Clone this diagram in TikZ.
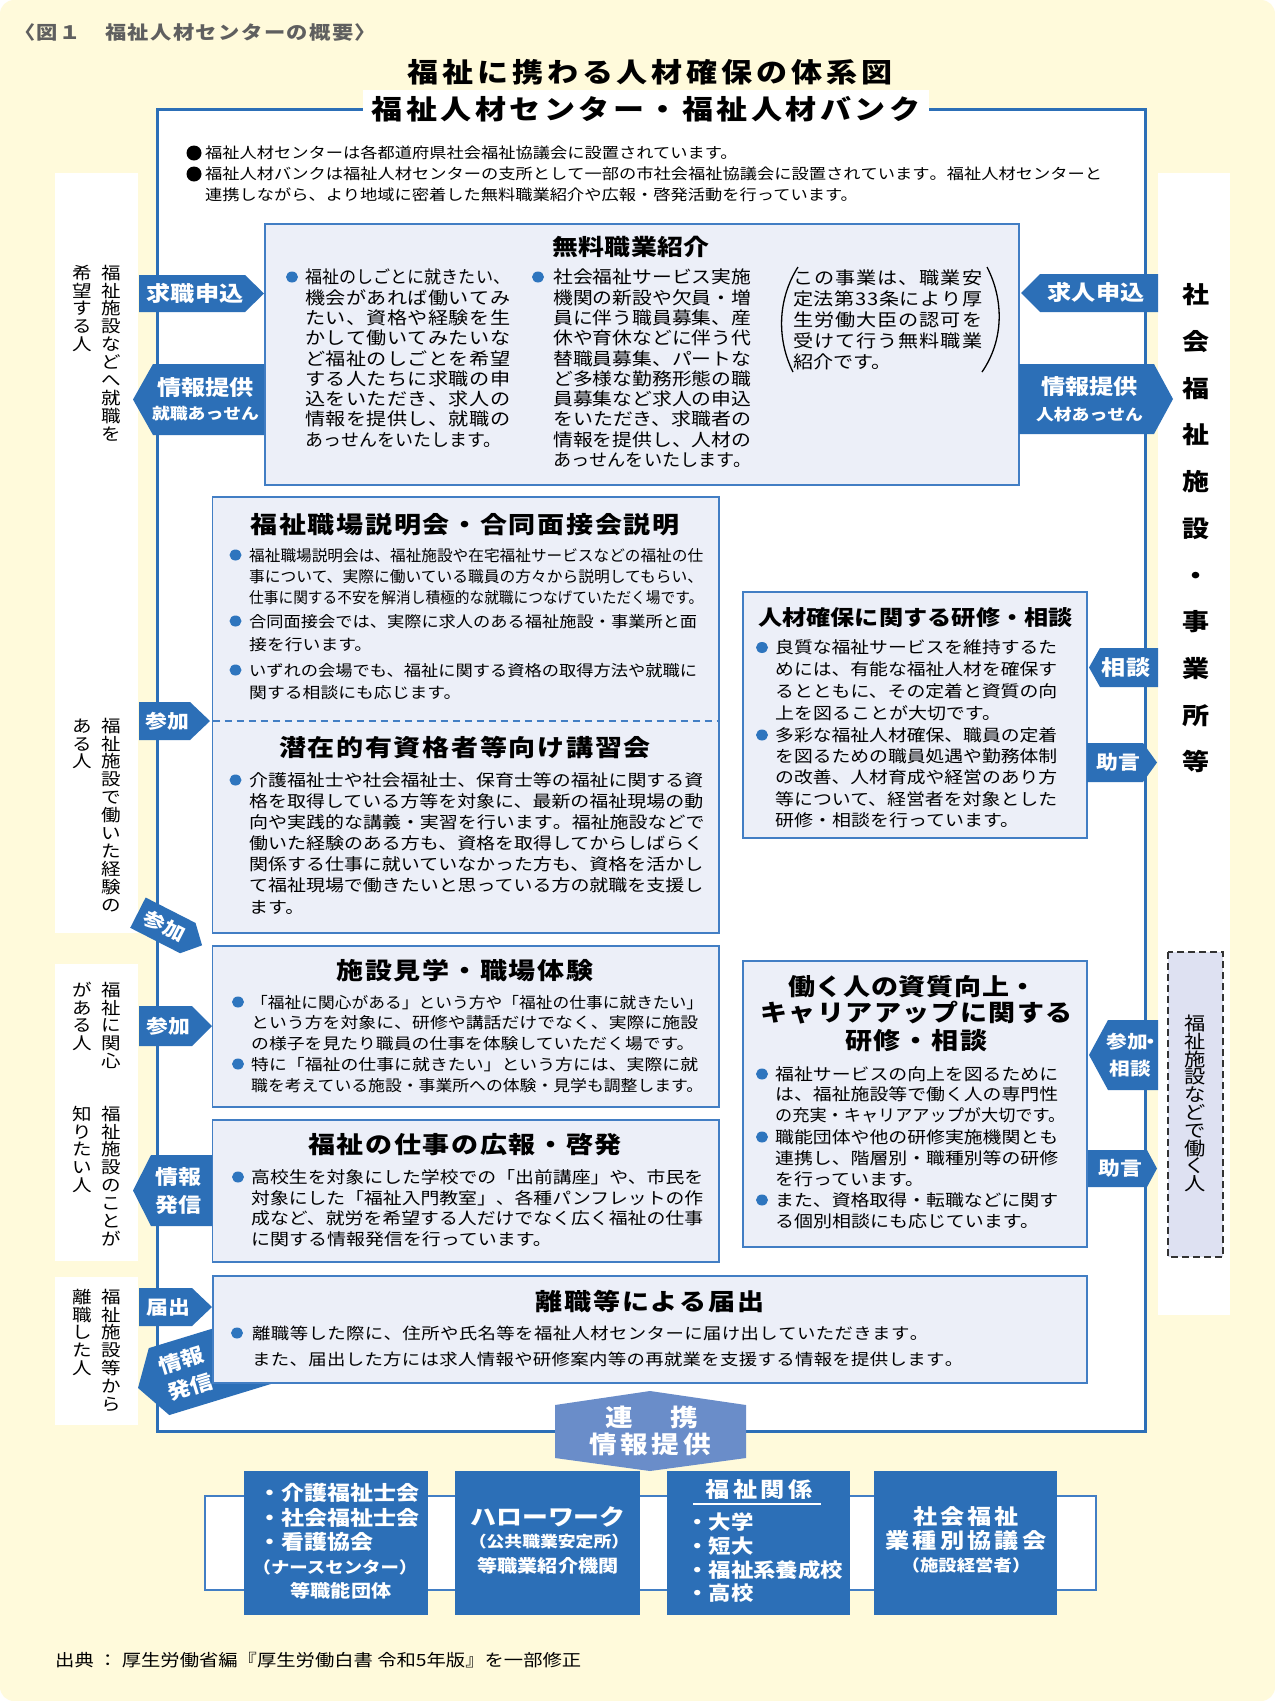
\documentclass[tikz,border=0pt]{standalone}
\usepackage{fontspec}
\setmainfont{Noto Sans CJK JP}[FakeStretch=1.15]
\usepackage{graphicx}
\definecolor{cream}{RGB}{255,250,219}
\definecolor{tagblue}{RGB}{44,111,183}
\definecolor{boxfill}{RGB}{236,239,248}
\definecolor{boxline}{RGB}{66,126,196}
\definecolor{hexblue}{RGB}{106,141,201}
\definecolor{lav}{RGB}{222,225,242}
\definecolor{dotblue}{RGB}{46,117,190}
\definecolor{capgray}{RGB}{95,95,95}
\newsavebox\jbox
\newcommand\jsz[1]{\fontsize{#1}{#1}\selectfont}
\newcommand\jst{\vrule height .88em depth .12em width 0pt\relax}
\makeatletter
\def\jf@a#1{\ifx\relax#1\else#1\expandafter\jf@b\fi}
\def\jf@b#1{\ifx\relax#1\else\hfill#1\expandafter\jf@b\fi}
\newcommand\jfit[2]{\sbox\jbox{#2}\ifdim\wd\jbox>#1\relax\hbox{\jst\resizebox{#1}{\height}{\usebox\jbox}}\else\hbox to #1{\jst\jf@a#2\relax}\fi}
\newcommand\jn[1]{\hbox{\jst#1}}
\newcommand\JL[1]{\jfit{\jw}{#1}}
\newcommand\vstk[2]{\vbox{\offinterlineskip\def\vs@g{#1}\vs@a#2\relax}}
\def\vs@a#1{\ifx\relax#1\else\hbox to 1em{\hss\jst#1\hss}\kern\vs@g\expandafter\vs@a\fi}
\makeatother
\newcommand\twol[5]{\vbox{\offinterlineskip\halign{\hfil##\hfil\cr\jsz{#1}\jst#2\cr\noalign{\kern#5pt}\jsz{#3}\jst#4\cr}}}
% name, style, x, y(first line centre), fs, baselineskip, content
\newcommand\blk[7]{\node[inner sep=0pt,anchor=north west,font=\jsz{#5},#2] (#1) at (#3,{#4-#5/2}) {\vbox{\baselineskip=#6pt\relax#7}};}
% name, xleft, xbody, xtip, ytop, ybot, fs, text
\newcommand\tagR[8]{\fill[tagblue] (#2,#5) -- (#3,#5) -- (#4,{(#5+#6)/2}) -- (#3,#6) -- (#2,#6) -- cycle;
 \node[tagtxt,font=\bfseries\jsz{#7}] (#1) at ({(#2+#3)/2+3},{(#5+#6)/2}) {#8};}
% name, xtip, xbody, xright, ytop, ybot, fs, text
\newcommand\tagL[8]{\fill[tagblue] (#2,{(#5+#6)/2}) -- (#3,#5) -- (#4,#5) -- (#4,#6) -- (#3,#6) -- cycle;
 \node[tagtxt,font=\bfseries\jsz{#7}] (#1) at ({(#3+#4)/2-3},{(#5+#6)/2}) {#8};}
\begin{document}
\begin{tikzpicture}[x=1pt,y=-1pt,
 tagtxt/.style={text=white,inner sep=0pt},
 cbox/.style={fill=boxfill,draw=boxline,line width=1.4pt},
 tx/.style={inner sep=0pt}]
\useasboundingbox (0,0) rectangle (1275,1701);
\fill[white] (0,0) rectangle (1275,1701);
\fill[cream,rounded corners=14pt] (0,0) rectangle (1275,1701);
% side panels
\fill[white] (55,173) rectangle (138,933);
\fill[white] (55,964) rectangle (138,1261);
\fill[white] (55,1277) rectangle (138,1425);
\fill[white] (1158,173) rectangle (1230,1315);
% main frame
\draw[fill=white,draw=tagblue,line width=3pt] (157,109) rectangle (1145,1431);
\fill[white] (363,90) rectangle (929,127);
\node[tx,font=\bfseries\jsz{27}] (banner) at (646,109) {\jfit{549pt}{福祉人材センター・福祉人材バンク}};
\node[tx,font=\bfseries\jsz{27}] (title) at (650,72) {\jfit{485pt}{福祉に携わる人材確保の体系図}};
\node[tx,anchor=west,font=\bfseries\jsz{18.5},text=capgray] (cap) at (14,32) {\jfit{362pt}{〈図１　福祉人材センターの概要〉}};
% header bullets
\fill (194,153) circle (7.5);
\fill (194,174) circle (7.5);
\node[tx,anchor=west,font=\jsz{15}] (hb1) at (205,153) {\jn{福祉人材センターは各都道府県社会福祉協議会に設置されています。}};
\blk{hb2}{}{205}{174}{15}{20.3}{\jfit{897pt}{福祉人材バンクは福祉人材センターの支所として一部の市社会福祉協議会に設置されています。福祉人材センターと}\jn{連携しながら、より地域に密着した無料職業紹介や広報・啓発活動を行っています。}}
% vertical side texts
\node[tx,anchor=north,font=\jsz{17}] (lv1a) at (111,264) {\vstk{0.9pt}{福祉施設などへ就職を}};
\node[tx,anchor=north,font=\jsz{17}] (lv1b) at (82,264) {\vstk{0.9pt}{希望する人}};
\node[tx,anchor=north,font=\jsz{17}] (lv2a) at (111,717) {\vstk{0.9pt}{福祉施設で働いた経験の}};
\node[tx,anchor=north,font=\jsz{17}] (lv2b) at (82,717) {\vstk{0.9pt}{ある人}};
\node[tx,anchor=north,font=\jsz{17}] (lv3a) at (111,981) {\vstk{0.9pt}{福祉に関心}};
\node[tx,anchor=north,font=\jsz{17}] (lv3b) at (82,981) {\vstk{0.9pt}{がある人}};
\node[tx,anchor=north,font=\jsz{17}] (lv4a) at (111,1105) {\vstk{0.9pt}{福祉施設のことが}};
\node[tx,anchor=north,font=\jsz{17}] (lv4b) at (82,1105) {\vstk{0.9pt}{知りたい人}};
\node[tx,anchor=north,font=\jsz{17}] (lv5a) at (111,1288) {\vstk{0.9pt}{福祉施設等から}};
\node[tx,anchor=north,font=\jsz{17}] (lv5b) at (82,1288) {\vstk{0.9pt}{離職した人}};
\node[tx,anchor=north,font=\bfseries\jsz{23.5}] (rv) at (1196,283) {\vstk{23.2pt}{社会福祉施設・事業所等}};
% content boxes
\draw[cbox] (265,224) rectangle (1019,485);
\draw[cbox] (212.5,497) rectangle (719,933);
\draw[cbox] (743,592) rectangle (1087,838);
\draw[cbox] (212.5,946) rectangle (719,1107);
\draw[cbox] (212.5,1120) rectangle (719,1262);
\draw[cbox] (743,961) rectangle (1087,1247);
\draw[boxline,line width=1.3pt,dash pattern=on 7pt off 5pt] (212.5,721) -- (719,721);
\draw[fill=lav,draw=black!80,line width=1.3pt,dash pattern=on 7pt off 4pt] (1168,952) rectangle (1223,1257);
\node[tx,anchor=north,font=\jsz{18.5}] (dv) at (1195,1014) {\vstk{-0.7pt}{福祉施設などで働く人}};
% diagonal tags
\begin{scope}[shift={(170,929)},rotate=-27]
\fill[tagblue] (-36,-17) -- (20,-17) -- (36,0) -- (20,17) -- (-36,17) -- cycle;
\node[tagtxt,font=\bfseries\jsz{19},transform shape] (tqd) at (-6,0) {\jst 参加};
\end{scope}
\begin{scope}[shift={(138,1388)},rotate=17]
\fill[tagblue] (0,0) -- (22,-35) -- (170,-35) -- (170,35) -- (22,35) -- cycle;
\node[tagtxt,font=\bfseries\jsz{20},transform shape] (tqe) at (50,0) {\twol{20}{情報}{20}{発信}{8}};
\end{scope}
\draw[cbox] (213,1276) rectangle (1087,1383);
% tags left
\tagR{tq1}{139}{245}{264}{275}{312}{21}{\jst 求職申込}
\tagL{tq2}{133}{153}{264}{364}{435}{21}{\twol{21}{情報提供}{15.5}{就職あっせん}{8}}
\tagR{tq3}{139}{190}{210}{702}{740}{19}{\jst 参加}
\tagR{tq4}{139}{192}{212}{1006}{1046}{19}{\jst 参加}
\tagL{tq5}{133}{151}{212}{1155}{1226}{20}{\twol{20}{情報}{20}{発信}{8}}
\tagR{tq6}{139}{192}{212}{1288}{1326}{19}{\jst 届出}
% tags right
\tagL{tr1}{1021}{1040}{1158}{274}{312}{21}{\jst 求人申込}
\tagR{tr2}{1019}{1154}{1173}{364}{434}{21}{\twol{21}{情報提供}{15.5}{人材あっせん}{9.5}}
\tagL{tr3}{1089}{1100}{1158}{648}{687}{21}{\jst 相談}
\tagR{tr4}{1087}{1143}{1157}{743}{782}{19}{\jst 助言}
\tagL{tr5}{1089}{1108}{1158}{1020}{1090}{18}{\twol{18}{参加\makebox[6pt]{・}}{18}{相談}{9}}
\tagR{tr6}{1088}{1147}{1157}{1150}{1187}{19}{\jst 助言}
% box 1: free placement
\node[tx,font=\bfseries\jsz{22.5}] (t1) at (631,247) {\jfit{157pt}{無料職業紹介}};
\fill[dotblue] (292,277) ellipse [x radius=6,y radius=5.5];
\fill[dotblue] (538,277) ellipse [x radius=6,y radius=5.5];
\blk{a1}{}{305}{277}{17.5}{20.3}{\def\jw{205pt}\JL{福祉のしごとに就きたい、}\JL{機会があれば働いてみ}\JL{たい、資格や経験を生}\JL{かして働いてみたいな}\JL{ど福祉のしごとを希望}\JL{する人たちに求職の申}\JL{込をいただき、求人の}\JL{情報を提供し、就職の}\jfit{196pt}{あっせんをいたします。}}
\blk{a2}{}{553}{277}{17.5}{20.3}{\def\jw{198pt}\JL{社会福祉サービス実施}\JL{機関の新設や欠員・増}\JL{員に伴う職員募集、産}\JL{休や育休などに伴う代}\JL{替職員募集、パートな}\JL{ど多様な勤務形態の職}\JL{員募集など求人の申込}\JL{をいただき、求職者の}\JL{情報を提供し、人材の}\JL{あっせんをいたします。}}
\blk{a3}{}{793}{278}{17.5}{21}{\def\jw{189pt}\JL{この事業は、職業安}\JL{定法第33条により厚}\JL{生労働大臣の認可を}\JL{受けて行う無料職業}\jn{紹介です。}}
\draw[line width=1.3pt] (798,267) .. controls (777,300) and (777,340) .. (793,372);
\draw[line width=1.3pt] (987,267) .. controls (1004,300) and (1004,340) .. (982,372);
% box 2
\node[tx,font=\bfseries\jsz{23.5}] (t2) at (465,525) {\jfit{429pt}{福祉職場説明会・合同面接会説明}};
\fill[dotblue] (235.5,555) ellipse [x radius=6,y radius=5.5];
\fill[dotblue] (235.5,621) ellipse [x radius=6,y radius=5.5];
\fill[dotblue] (235.5,670) ellipse [x radius=6,y radius=5.5];
\blk{b1}{}{249}{555}{15.5}{21}{\def\jw{454pt}\JL{福祉職場説明会は、福祉施設や在宅福祉サービスなどの福祉の仕}\JL{事について、実際に働いている職員の方々から説明してもらい、}\JL{仕事に関する不安を解消し積極的な就職につなげていただく場です。}}
\blk{b2}{}{249}{621}{15.5}{23}{\jfit{448pt}{合同面接会では、実際に求人のある福祉施設・事業所と面}\jn{接を行います。}}
\blk{b3}{}{249}{670}{15.5}{22}{\jfit{448pt}{いずれの会場でも、福祉に関する資格の取得方法や就職に}\jn{関する相談にも応じます。}}
\node[tx,font=\bfseries\jsz{23.5}] (t3) at (465,748) {\jfit{372pt}{潜在的有資格者等向け講習会}};
\fill[dotblue] (235.5,780) ellipse [x radius=6,y radius=5.5];
\blk{b4}{}{249}{780}{16.5}{21.1}{\def\jw{454pt}\JL{介護福祉士や社会福祉士、保育士等の福祉に関する資}\JL{格を取得している方等を対象に、最新の福祉現場の動}\JL{向や実践的な講義・実習を行います。福祉施設などで}\JL{働いた経験のある方も、資格を取得してからしばらく}\JL{関係する仕事に就いていなかった方も、資格を活かし}\JL{て福祉現場で働きたいと思っている方の就職を支援し}\jn{ます。}}
% box 3
\node[tx,font=\bfseries\jsz{21}] (t4) at (915.5,618) {\jfit{315pt}{人材確保に関する研修・相談}};
\fill[dotblue] (762,647.5) ellipse [x radius=6,y radius=5.5];
\fill[dotblue] (762,735) ellipse [x radius=6,y radius=5.5];
\blk{c1}{}{775}{647.5}{16.5}{21.8}{\def\jw{282pt}\JL{良質な福祉サービスを維持するた}\JL{めには、有能な福祉人材を確保す}\JL{るとともに、その定着と資質の向}\jn{上を図ることが大切です。}}
\blk{c2}{}{775}{735}{16.5}{21.25}{\def\jw{282pt}\JL{多彩な福祉人材確保、職員の定着}\JL{を図るための職員処遇や勤務体制}\JL{の改善、人材育成や経営のあり方}\JL{等について、経営者を対象とした}\jn{研修・相談を行っています。}}
% box 4
\node[tx,font=\bfseries\jsz{23.5}] (t5) at (465,971) {\jfit{257pt}{施設見学・職場体験}};
\fill[dotblue] (238,1002) ellipse [x radius=6,y radius=5.5];
\fill[dotblue] (238,1064) ellipse [x radius=6,y radius=5.5];
\blk{d1}{}{251}{1002}{15.5}{20.5}{\jfit{452pt}{「福祉に関心がある」という方や「福祉の仕事に就きたい」}\jfit{447pt}{という方を対象に、研修や講話だけでなく、実際に施設}\jn{の様子を見たり職員の仕事を体験していただく場です。}}
\blk{d2}{}{251}{1064}{15.5}{21}{\jfit{447pt}{特に「福祉の仕事に就きたい」という方には、実際に就}\jfit{452pt}{職を考えている施設・事業所への体験・見学も調整します。}}
% box 5
\node[tx,font=\bfseries\jsz{23.5}] (t6) at (465,1145) {\jfit{314pt}{福祉の仕事の広報・啓発}};
\fill[dotblue] (238,1177) ellipse [x radius=6,y radius=5.5];
\blk{e1}{}{251}{1177}{16.5}{20.7}{\def\jw{452pt}\JL{高校生を対象にした学校での「出前講座」や、市民を}\JL{対象にした「福祉入門教室」、各種パンフレットの作}\JL{成など、就労を希望する人だけでなく広く福祉の仕事}\jn{に関する情報発信を行っています。}}
% box 6
\node[tx,font=\bfseries\jsz{23.5}] (t7a) at (912.5,987) {\jfit{249pt}{働く人の資質向上・}};
\node[tx,font=\bfseries\jsz{23.5}] (t7b) at (916.5,1013) {\jfit{313pt}{キャリアアップに関する}};
\node[tx,font=\bfseries\jsz{23.5}] (t7c) at (916.5,1041) {\jfit{143pt}{研修・相談}};
\fill[dotblue] (762,1074) ellipse [x radius=6,y radius=5.5];
\fill[dotblue] (762,1137) ellipse [x radius=6,y radius=5.5];
\fill[dotblue] (762,1200) ellipse [x radius=6,y radius=5.5];
\blk{f1}{}{775}{1074}{16.5}{20.5}{\def\jw{283pt}\JL{福祉サービスの向上を図るために}\JL{は、福祉施設等で働く人の専門性}\jfit{290pt}{の充実・キャリアアップが大切です。}}
\blk{f2}{}{775}{1137}{16.5}{21}{\def\jw{283pt}\JL{職能団体や他の研修実施機関とも}\JL{連携し、階層別・職種別等の研修}\jn{を行っています。}}
\blk{f3}{}{775}{1200}{16.5}{21}{\def\jw{283pt}\JL{また、資格取得・転職などに関す}\jn{る個別相談にも応じています。}}
% box 7
\node[tx,font=\bfseries\jsz{23.5}] (t8) at (650,1302) {\jfit{229pt}{離職等による届出}};
\fill[dotblue] (237,1333) ellipse [x radius=6,y radius=5.5];
\blk{g1}{}{252}{1333}{16}{26}{\jfit{676pt}{離職等した際に、住所や氏名等を福祉人材センターに届け出していただきます。}\jfit{711pt}{また、届出した方には求人情報や研修案内等の再就業を支援する情報を提供します。}}
% bottom
\draw[fill=white,draw=boxline,line width=1.5pt] (205,1496) rectangle (1096,1590);
\fill[hexblue] (650,1391) -- (746,1405) -- (746,1458) -- (650,1471) -- (555,1458) -- (555,1405) -- cycle;
\node[tagtxt,font=\bfseries\jsz{24}] (hx1) at (652,1417) {\jfit{93pt}{連携}};
\node[tagtxt,font=\bfseries\jsz{24}] (hx2) at (650,1444) {\jfit{122pt}{情報提供}};
\fill[tagblue] (244,1471) rectangle (428,1615);
\fill[tagblue] (455,1471) rectangle (640,1615);
\fill[tagblue] (667,1471) rectangle (850,1615);
\fill[tagblue] (874,1471) rectangle (1057,1615);
\blk{ba1}{text=white}{258}{1493}{20}{24.5}{\bfseries\jn{・介護福祉士会}\jn{・社会福祉士会}\jn{・看護協会}}
\node[tagtxt,font=\bfseries\jsz{16}] (ba2) at (335,1567) {\jst （ナースセンター）};
\node[tagtxt,font=\bfseries\jsz{17.5}] (ba3) at (341,1591) {\jst 等職能団体};
\node[tagtxt,font=\bfseries\jsz{22.5}] (bb1) at (548,1517) {\jst ハローワーク};
\node[tagtxt,font=\bfseries\jsz{15.5}] (bb2) at (549,1542) {\jst （公共職業安定所）};
\node[tagtxt,font=\bfseries\jsz{17.5}] (bb3) at (548,1566) {\jst 等職業紹介機関};
\node[tagtxt,font=\bfseries\jsz{21}] (bc1) at (759,1489) {\jfit{107pt}{福祉関係}};
\draw[white,line width=2pt] (693,1504) -- (821,1504);
\blk{bc2}{text=white}{686}{1522}{19.5}{23.7}{\bfseries\jn{・大学}\jn{・短大}\jn{・福祉系養成校}\jn{・高校}}
\node[tagtxt,font=\bfseries\jsz{21}] (bd1) at (966,1517) {\jfit{106pt}{社会福祉}};
\node[tagtxt,font=\bfseries\jsz{21}] (bd2) at (966,1540) {\jfit{161pt}{業種別協議会}};
\node[tagtxt,font=\bfseries\jsz{16}] (bd3) at (966,1565) {\jst （施設経営者）};
\node[tx,anchor=west,font=\jsz{16.8}] (src) at (55,1660) {\jst 出典 ： 厚生労働省編『厚生労働白書 令和5年版』を一部修正};
\end{tikzpicture}
\end{document}
